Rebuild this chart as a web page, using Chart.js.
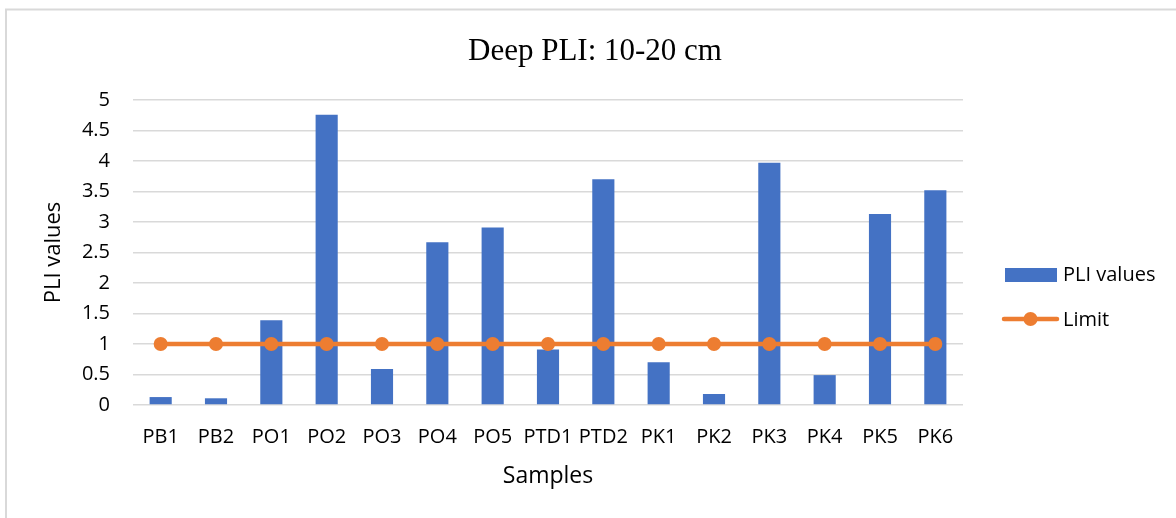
<!DOCTYPE html>
<html>
<head>
<meta charset="utf-8">
<script src="https://cdn.jsdelivr.net/npm/chart.js@4/dist/chart.umd.min.js"></script>
<style>
html,body{margin:0;padding:0;background:#fff;}
#wrap{width:1176px;height:518px;position:relative;}
</style>
</head>
<body>
<div id="wrap"><canvas id="c" width="1176" height="518"></canvas></div>
<script>
const categories = ['PB1','PB2','PO1','PO2','PO3','PO4','PO5','PTD1','PTD2','PK1','PK2','PK3','PK4','PK5','PK6'];
const pliValues = [0.13,0.11,1.39,4.76,0.59,2.67,2.91,0.91,3.70,0.70,0.18,3.97,0.49,3.13,3.52];
const limitValues = [1,1,1,1,1,1,1,1,1,1,1,1,1,1,1];
const yTicks = [0,0.5,1,1.5,2,2.5,3,3.5,4,4.5,5];
const titleText = 'Deep PLI: 10-20 cm';
const xTitle = 'Samples';
const yTitle = 'PLI values';
const seriesNames = ['PLI values','Limit'];

const BLUE = '#4472C4', ORANGE = '#ED7D31', FONT = "'Open Sans', sans-serif";

const framePlugin = {
  id: 'frame',
  beforeDraw(chart) {
    const ctx = chart.ctx;
    ctx.save();
    ctx.fillStyle = '#fff';
    ctx.fillRect(0,0,chart.width,chart.height);
    ctx.strokeStyle = '#D9D9D9';
    ctx.lineWidth = 2;
    ctx.strokeRect(6, 9.5, 1300, 700);
    ctx.restore();
  }
};

const titlePlugin = {
  id: 'customTitle',
  afterDraw(chart) {
    const ctx = chart.ctx;
    ctx.save();
    ctx.font = "31px 'Liberation Serif', 'Times New Roman', serif";
    ctx.fillStyle = '#000';
    ctx.textAlign = 'center';
    ctx.textBaseline = 'alphabetic';
    ctx.fillText(titleText, 595, 60);
    ctx.restore();
  }
};

const legendPlugin = {
  id: 'customLegend',
  afterDraw(chart) {
    const ctx = chart.ctx;
    ctx.save();
    ctx.font = "20px " + FONT;
    ctx.textBaseline = 'middle';
    ctx.textAlign = 'left';
    ctx.fillStyle = BLUE;
    ctx.fillRect(1005, 268, 52, 14);
    ctx.fillStyle = '#000';
    ctx.fillText(seriesNames[0], 1063, 275);
    ctx.strokeStyle = ORANGE;
    ctx.lineWidth = 4.5;
    ctx.lineCap = 'round';
    ctx.beginPath();
    ctx.moveTo(1004, 319);
    ctx.lineTo(1057, 319);
    ctx.stroke();
    ctx.fillStyle = ORANGE;
    ctx.beginPath();
    ctx.arc(1030.5, 319, 7, 0, Math.PI*2);
    ctx.fill();
    ctx.fillStyle = '#000';
    ctx.fillText(seriesNames[1], 1063, 320);
    ctx.restore();
  }
};

new Chart(document.getElementById('c'), {
  data: {
    labels: categories,
    datasets: [
      {
        type: 'line',
        label: seriesNames[1],
        data: limitValues,
        borderColor: ORANGE,
        backgroundColor: ORANGE,
        borderWidth: 4.5,
        pointRadius: 7,
        pointHoverRadius: 7,
        pointBackgroundColor: ORANGE,
        pointBorderWidth: 0,
        order: 0
      },
      {
        type: 'bar',
        label: seriesNames[0],
        data: pliValues,
        backgroundColor: BLUE,
        borderWidth: 0,
        barPercentage: 0.4,
        categoryPercentage: 1.0,
        order: 1
      }
    ]
  },
  plugins: [framePlugin, titlePlugin, legendPlugin],
  options: {
    responsive: false,
    animation: false,
    layout: { padding: { left: 36, right: 213, top: 100, bottom: 20 } },
    plugins: {
      legend: { display: false },
      tooltip: { enabled: false },
      title: { display: false }
    },
    scales: {
      x: {
        offset: true,
        grid: { display: false, drawTicks: false },
        border: { display: false },
        ticks: { color: '#000', font: { family: FONT, size: 20 }, padding: 20, maxRotation: 0, autoSkip: false },
        title: { display: true, text: xTitle, color: '#000', font: { family: FONT, size: 23 }, padding: { top: 4, bottom: 8 } },
        afterFit(scale) { scale.height = 93; }
      },
      y: {
        min: 0, max: 5,
        afterBuildTicks(scale) { scale.ticks = yTicks.map(v => ({ value: v })); },
        grid: { color: '#D9D9D9', lineWidth: 1.5, drawTicks: false },
        border: { display: false },
        ticks: { color: '#000', font: { family: FONT, size: 20 }, padding: 23, callback: v => String(v) },
        title: { display: true, text: yTitle, color: '#000', font: { family: FONT, size: 22 }, padding: { top: 5, bottom: 0 } },
        afterFit(scale) { scale.width = 97; }
      }
    }
  }
});
</script>
</body>
</html>
